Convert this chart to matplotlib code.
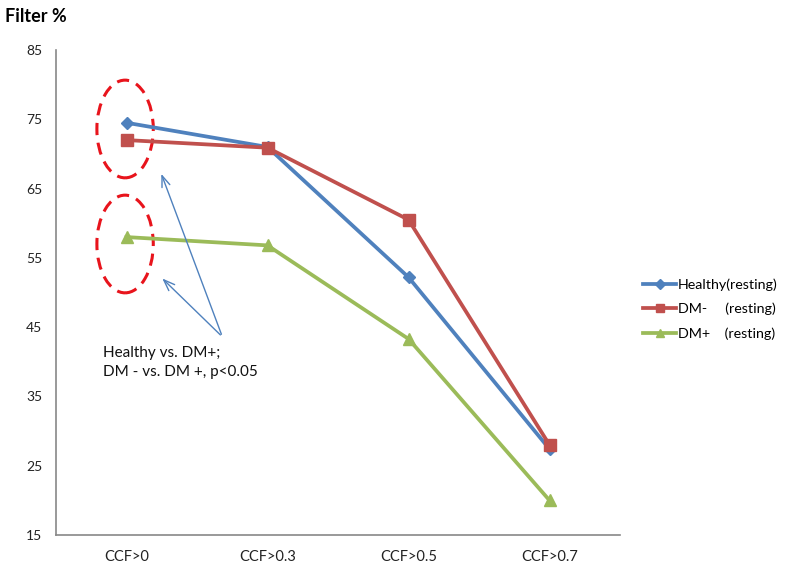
import matplotlib
matplotlib.use("Agg")
import matplotlib.pyplot as plt
from matplotlib.patches import Ellipse

categories = ["CCF>0", "CCF>0.3", "CCF>0.5", "CCF>0.7"]
healthy = [74.5, 71.0, 52.2, 27.4]
dm_minus = [72.0, 70.9, 60.5, 28.0]
dm_plus = [58.0, 56.8, 43.3, 20.0]
yticks = [15, 25, 35, 45, 55, 65, 75, 85]
labels = ["Healthy(resting)", "DM-     (resting)", "DM+    (resting)"]

plt.rcParams['font.family'] = ['Lato', 'DejaVu Sans']

fig = plt.figure(figsize=(7.86, 5.69), dpi=100)
ax = fig.add_axes([56/786, 1-535/569, (620-56)/786, (535-50)/569])

x = list(range(len(categories)))
ax.plot(x, healthy, color="#4F81BD", lw=2.7, marker="D", ms=6.5, label=labels[0])
ax.plot(x, dm_minus, color="#C0504D", lw=2.7, marker="s", ms=8, label=labels[1])
ax.plot(x, dm_plus, color="#9BBB59", lw=2.7, marker="^", ms=8, label=labels[2])

ax.set_xlim(-0.5, 3.5)
ax.set_ylim(15, 85)
ax.set_yticks(yticks)
ax.set_xticks(x)
ax.set_xticklabels(categories, fontsize=10.5)
ax.tick_params(axis='y', length=0, labelsize=10, pad=10, colors="#222222")
ax.tick_params(axis='x', length=0, pad=11, colors="#222222")
for s in ["top", "right"]:
    ax.spines[s].set_visible(False)
for s in ["left", "bottom"]:
    ax.spines[s].set_color("#888888")
    ax.spines[s].set_linewidth(1.2)

# ellipses
for cy in [73.6, 57.0]:
    e = Ellipse((-0.01, cy), width=0.4, height=14.1, fill=False, edgecolor="#E8141C",
                lw=2.2, ls=(0, (4, 2.5)), clip_on=False)
    ax.add_patch(e)

# arrows
for ty in [67.5, 52.3]:
    ax.annotate("", xy=(0.24, ty), xytext=(0.68, 43.6),
                arrowprops=dict(arrowstyle="->,head_length=0.8,head_width=0.3",
                                color="#4F81BD", lw=1.0))

ax.text(-0.165, 42.3, "Healthy vs. DM+;\nDM - vs. DM +, p<0.05", fontsize=11,
        va="top", ha="left", linespacing=1.5, color="#111111")

fig.text(5/786, 1-17/569, "Filter %", fontsize=13, fontweight="bold", va="center", ha="left")

leg = ax.legend(loc="center left", bbox_to_anchor=(639/786, 1-309/569),
                bbox_transform=fig.transFigure, frameon=False, fontsize=10.3,
                handlelength=2.3, handletextpad=0.1, labelspacing=0.85, markerscale=0.8,
                borderaxespad=0, borderpad=0.3)

fig.savefig("out.png", dpi=100)
